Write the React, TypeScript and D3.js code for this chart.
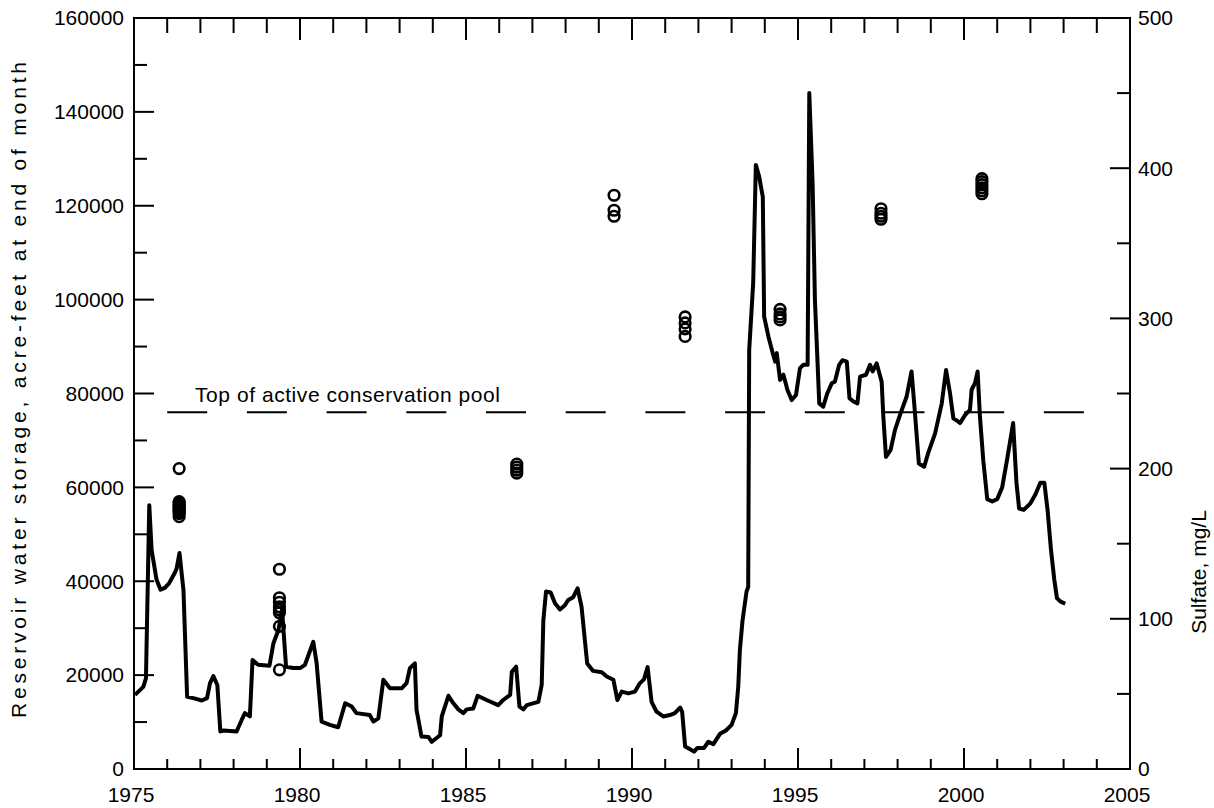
import * as d3 from "d3";

// reservoir storage, end of month (decimal year, acre-feet)
const storage: [number, number][] = [
  [1975.03, 15800], [1975.28, 17500], [1975.36, 19300], [1975.46, 56200], [1975.53, 46700],
  [1975.68, 40300], [1975.8, 38200], [1975.93, 38600], [1976.06, 39600], [1976.23, 41800],
  [1976.28, 42600], [1976.37, 46000], [1976.49, 38100], [1976.6, 15400], [1976.79, 15100],
  [1977.04, 14600], [1977.2, 15100], [1977.29, 18300], [1977.39, 19800], [1977.51, 17900],
  [1977.6, 8000], [1977.7, 8200], [1978.09, 8000], [1978.24, 10400], [1978.34, 11900],
  [1978.49, 11200], [1978.57, 23200], [1978.74, 22200], [1979.08, 22000], [1979.2, 26800],
  [1979.35, 29600], [1979.46, 33900], [1979.58, 21800], [1979.8, 21500], [1980.0, 21500],
  [1980.15, 22200], [1980.4, 27100], [1980.5, 22600], [1980.65, 10100], [1980.9, 9400],
  [1981.15, 8900], [1981.36, 14000], [1981.56, 13300], [1981.7, 11900], [1982.1, 11500],
  [1982.21, 10100], [1982.36, 10800], [1982.51, 19000], [1982.71, 17200], [1983.06, 17200],
  [1983.21, 18300], [1983.31, 21500], [1983.46, 22500], [1983.51, 12600], [1983.66, 6900],
  [1983.87, 6800], [1983.97, 5800], [1984.22, 7200], [1984.27, 11200], [1984.47, 15600],
  [1984.62, 14000], [1984.77, 12700], [1984.92, 11900], [1985.02, 12700], [1985.22, 12900],
  [1985.35, 15600], [1985.62, 14700], [1985.97, 13600], [1986.12, 14700], [1986.33, 15800],
  [1986.38, 20700], [1986.51, 21800], [1986.61, 13300], [1986.73, 12700], [1986.83, 13600],
  [1987.18, 14300], [1987.28, 17900], [1987.33, 31700], [1987.41, 37800], [1987.55, 37600],
  [1987.68, 35300], [1987.83, 34000], [1987.98, 34900], [1988.08, 36000], [1988.23, 36600],
  [1988.36, 38500], [1988.48, 34600], [1988.65, 22500], [1988.83, 20900], [1989.09, 20600],
  [1989.24, 19700], [1989.44, 19000], [1989.56, 14700], [1989.69, 16500], [1989.89, 16100],
  [1990.09, 16500], [1990.24, 18300], [1990.36, 19100], [1990.47, 21700], [1990.59, 14300],
  [1990.74, 12200], [1990.94, 11200], [1991.14, 11500], [1991.29, 11900], [1991.45, 13100],
  [1991.51, 12200], [1991.6, 4800], [1991.75, 4200], [1991.87, 3700], [1991.97, 4500],
  [1992.17, 4500], [1992.3, 5800], [1992.45, 5300], [1992.65, 7500], [1992.83, 8200],
  [1993.0, 9400], [1993.13, 11900], [1993.2, 17500], [1993.25, 25400], [1993.33, 31700],
  [1993.45, 37800], [1993.5, 38800], [1993.53, 89300], [1993.65, 103500], [1993.73, 128700],
  [1993.83, 126200], [1993.94, 121900], [1993.98, 96400], [1994.11, 92100], [1994.24, 88600],
  [1994.31, 86800], [1994.36, 88600], [1994.46, 82900], [1994.56, 84000], [1994.68, 80800],
  [1994.81, 78600], [1994.94, 79700], [1995.06, 85400], [1995.16, 86100], [1995.29, 86100],
  [1995.34, 144000], [1995.44, 124800], [1995.51, 99900], [1995.64, 77900], [1995.76, 77200],
  [1995.88, 80000], [1996.02, 82200], [1996.11, 82500], [1996.24, 86100], [1996.34, 87100],
  [1996.47, 86800], [1996.55, 79000], [1996.67, 78300], [1996.79, 77900], [1996.87, 83600],
  [1997.05, 84000], [1997.17, 86100], [1997.25, 84700], [1997.37, 86400], [1997.52, 82500],
  [1997.57, 75100], [1997.65, 66500], [1997.79, 68000], [1997.92, 72200], [1998.07, 75400],
  [1998.27, 79300], [1998.42, 84700], [1998.5, 77900], [1998.64, 65100], [1998.8, 64400],
  [1998.92, 67300], [1999.13, 71500], [1999.33, 77900], [1999.46, 85000], [1999.58, 80000],
  [1999.68, 74700], [1999.83, 74000], [1999.88, 73700], [2000.03, 75400], [2000.18, 76500],
  [2000.23, 80800], [2000.33, 82200], [2000.41, 84700], [2000.48, 75100], [2000.58, 65800],
  [2000.7, 57500], [2000.85, 57000], [2001.0, 57500], [2001.15, 60000], [2001.3, 66000],
  [2001.48, 73700], [2001.58, 61000], [2001.66, 55500], [2001.8, 55200], [2002.0, 56600],
  [2002.15, 58500], [2002.3, 61000], [2002.42, 61000], [2002.52, 55000], [2002.62, 46700],
  [2002.72, 40300], [2002.8, 36400], [2002.9, 35700], [2003.05, 35200],
];

// sulfate samples (mg/L), grouped by sampling date
const sampleYears = [1976.36, 1979.38, 1986.53, 1989.46, 1991.6, 1994.46, 1997.5, 2000.54];
const sulfate = [
  [200, 178, 177, 176, 175, 174, 173, 172, 171, 170, 168],
  [133, 114, 111, 108, 106, 104, 95, 66],
  [203, 201, 199, 197],
  [382, 372, 368],
  [301, 297, 293, 288],
  [306, 303, 301, 299],
  [373, 370, 368, 366],
  [393, 391, 389, 387, 385, 383],
];

const poolLevel = 76000;
const poolSpan = [1976.0, 2003.64];
const poolLabel = "Top of active conservation pool";

const storageTicks = d3.range(0, 160001, 20000);
const storageMinor = d3.range(10000, 160000, 20000);
const sulfateTicks = d3.range(0, 501, 100);
const sulfateMinor = d3.range(50, 500, 100);
const yearTicks = d3.range(1975, 2006, 5);
const yearMinor = d3.range(1975, 2006, 1).filter((y) => y % 5 !== 0);

const font = "'Liberation Sans', Arial, sans-serif";

export default function App() {
  const left = 134, right = 1130, top = 18, bottom = 769;
  const x = d3.scaleLinear().domain([1975, 2005]).range([left, right]);
  const y = d3.scaleLinear().domain([0, 160000]).range([bottom, top]);
  const y2 = d3.scaleLinear().domain([0, 500]).range([bottom, top]);

  const line = d3.line<[number, number]>().x((d) => x(d[0])).y((d) => y(d[1]));

  const pts = sampleYears.flatMap((yr, i) => sulfate[i].map((v) => ({ yr, v })));

  return (
    <svg width={1214} height={808} style={{ position: "absolute", left: 0, top: 0, background: "#fff" }}
      fontFamily={font} fontSize={21}>
      {/* dashed pool line */}
      <line x1={x(poolSpan[0])} x2={x(poolSpan[1])} y1={y(poolLevel)} y2={y(poolLevel)}
        stroke="#000" strokeWidth={2} strokeDasharray="40 39.7" />
      <text x={195} y={402} textLength={305} lengthAdjust="spacing">{poolLabel}</text>

      {/* storage line */}
      <path d={line(storage) ?? ""} fill="none" stroke="#000" strokeWidth={4} strokeLinejoin="round" />

      {/* sulfate circles */}
      {pts.map((p, i) => (
        <circle key={i} cx={x(p.yr)} cy={y2(p.v)} r={5.3} fill="none" stroke="#000" strokeWidth={2.6} />
      ))}

      {/* frame */}
      <rect x={left} y={top} width={right - left} height={bottom - top} fill="none" stroke="#000" strokeWidth={2} />

      {/* left axis */}
      {storageTicks.map((t) => (
        <g key={"l" + t}>
          <line x1={left} x2={left + 20} y1={y(t)} y2={y(t)} stroke="#000" strokeWidth={2} />
          <text x={left - 10} y={y(t)} dy="0.35em" textAnchor="end">{t}</text>
        </g>
      ))}
      {storageMinor.map((t) => (
        <line key={"lm" + t} x1={left} x2={left + 13} y1={y(t)} y2={y(t)} stroke="#000" strokeWidth={2} />
      ))}

      {/* right axis */}
      {sulfateTicks.map((t) => (
        <g key={"r" + t}>
          <line x1={right} x2={right - 20} y1={y2(t)} y2={y2(t)} stroke="#000" strokeWidth={2} />
          <text x={right + 8} y={y2(t)} dy="0.35em" textAnchor="start">{t}</text>
        </g>
      ))}
      {sulfateMinor.map((t) => (
        <line key={"rm" + t} x1={right} x2={right - 13} y1={y2(t)} y2={y2(t)} stroke="#000" strokeWidth={2} />
      ))}

      {/* bottom + top axis */}
      {yearTicks.map((t) => (
        <g key={"b" + t}>
          <line x1={x(t)} x2={x(t)} y1={bottom} y2={bottom - 21} stroke="#000" strokeWidth={2} />
          <line x1={x(t)} x2={x(t)} y1={top} y2={top + 22} stroke="#000" strokeWidth={2} />
          <text x={x(t) - 3} y={802} textAnchor="middle">{t}</text>
        </g>
      ))}
      {yearMinor.map((t) => (
        <g key={"bm" + t}>
          <line x1={x(t)} x2={x(t)} y1={bottom} y2={bottom - 10} stroke="#000" strokeWidth={2} />
          <line x1={x(t)} x2={x(t)} y1={top} y2={top + 15} stroke="#000" strokeWidth={2} />
        </g>
      ))}

      {/* axis titles */}
      <text transform="translate(26,390) rotate(-90)" textAnchor="middle" textLength={656} lengthAdjust="spacing">
        Reservoir water storage, acre-feet at end of month
      </text>
      <text transform="translate(1206,572) rotate(-90)" textAnchor="middle">Sulfate, mg/L</text>
    </svg>
  );
}
